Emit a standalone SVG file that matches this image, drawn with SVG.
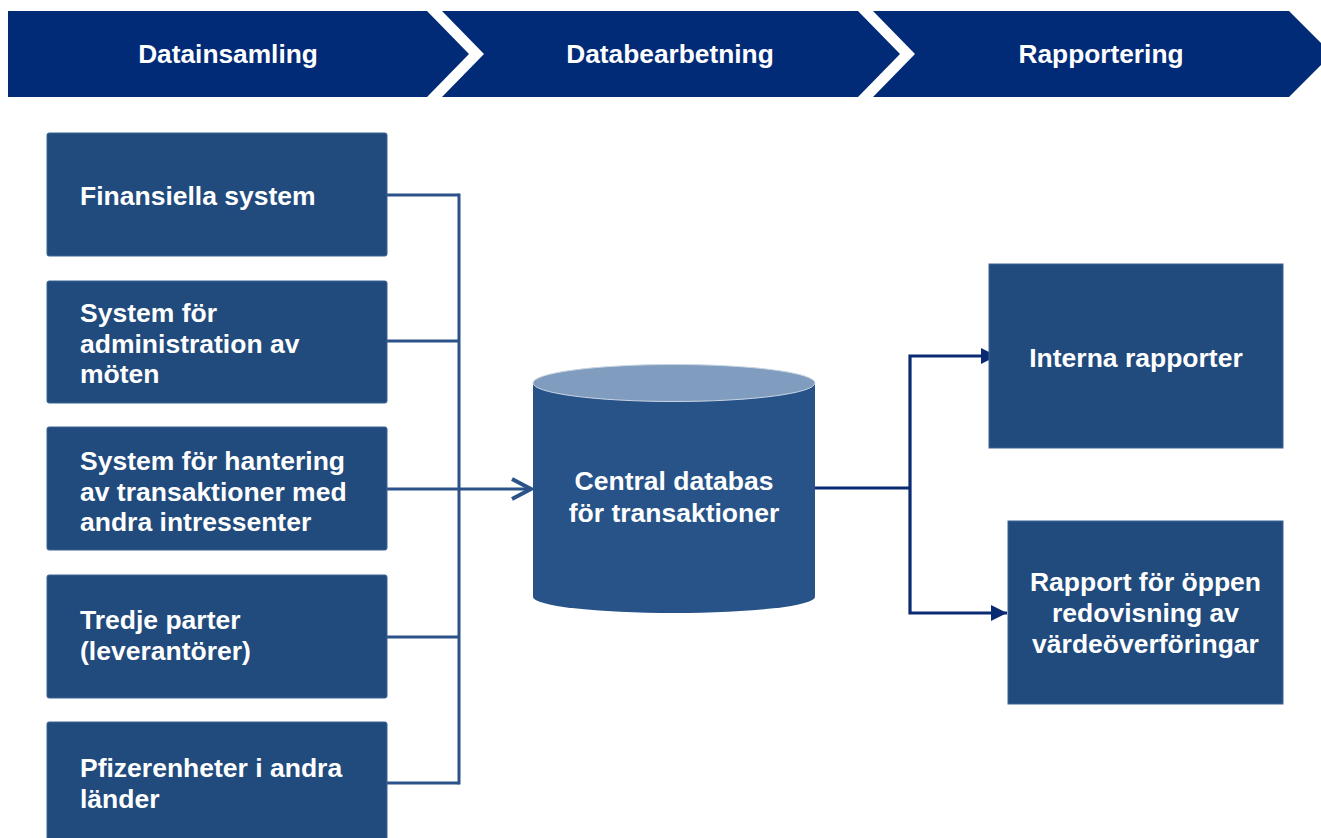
<svg xmlns="http://www.w3.org/2000/svg" width="1321" height="838" viewBox="0 0 1321 838">
<style>
.hdr{fill:#012a77}
.hdrt{font-family:"Liberation Sans",Arial,sans-serif;font-weight:bold;font-size:26.3px;fill:#fff;text-anchor:middle}
.box{fill:#214a7d;stroke:#3d6395;stroke-width:1}
.t{font-family:"Liberation Sans",Arial,sans-serif;font-weight:bold;font-size:26.5px;fill:#fff}
.c{text-anchor:middle}
.lc{fill:none;stroke:#2b5389;stroke-width:3}
.rc{fill:none;stroke:#0a2a73;stroke-width:3.2}
</style>
<defs>
<marker id="tri" markerUnits="userSpaceOnUse" markerWidth="18" markerHeight="18" refX="16" refY="8" orient="auto">
<path d="M0,0 L16,8 L0,16 Z" fill="#0a2a73"/>
</marker>
</defs>
<g id="header">
<g id="h1"><polygon class="hdr" points="8,11 427,11 469,54 427,97 8,97"/><text class="hdrt" x="228" y="63">Datainsamling</text></g>
<g id="h2"><polygon class="hdr" points="442,11 858,11 900,54 858,97 442,97 484,54"/><text class="hdrt" x="670" y="63">Databearbetning</text></g>
<g id="h3"><polygon class="hdr" points="873,11 1289,11 1332,54 1289,97 873,97 915,54"/><text class="hdrt" x="1101" y="63">Rapportering</text></g>
</g>
<g id="connectors">
<polyline class="lc" points="387,195 459,195"/>
<polyline class="lc" points="387,341 459,341"/>
<polyline class="lc" points="387,489 530,489"/>
<polyline class="lc" points="387,637 459,637"/>
<polyline class="lc" points="387,783 459,783"/>
<line class="lc" x1="459" y1="193.5" x2="459" y2="784.5"/>
<polyline points="512,479 531,489 512,499" fill="none" stroke="#2b5389" stroke-width="4"/>
<polyline class="rc" points="815,488 910,488"/>
<polyline class="rc" points="910,488 910,356 997,356" marker-end="url(#tri)"/>
<polyline class="rc" points="910,488 910,613 1007,613" marker-end="url(#tri)"/>
</g>
<g id="n1"><rect class="box" x="47" y="133" width="340" height="123" rx="2"/><text class="t" x="80" y="205">Finansiella system</text></g>
<g id="n2"><rect class="box" x="47" y="281" width="340" height="122" rx="2"/><text class="t" x="80" y="322">System för</text><text class="t" x="80" y="352.5">administration av</text><text class="t" x="80" y="383">möten</text></g>
<g id="n3"><rect class="box" x="47" y="427" width="340" height="123" rx="2"/><text class="t" x="80" y="470">System för hantering</text><text class="t" x="80" y="500.5">av transaktioner med</text><text class="t" x="80" y="531">andra intressenter</text></g>
<g id="n4"><rect class="box" x="47" y="575" width="340" height="123" rx="2"/><text class="t" x="80" y="629">Tredje parter</text><text class="t" x="80" y="660">(leverantörer)</text></g>
<g id="n5"><rect class="box" x="47" y="722" width="340" height="130" rx="2"/><text class="t" x="80" y="777">Pfizerenheter i andra</text><text class="t" x="80" y="808">länder</text></g>
<g id="db">
<path d="M533,383 L533,597 A141,16 0 0 0 815,597 L815,383 Z" fill="#275389"/>
<ellipse cx="674" cy="383" rx="141" ry="18.5" fill="#809dbf" stroke="#c9d5e4" stroke-width="1"/>
<text class="t c" x="674" y="490">Central databas</text>
<text class="t c" x="674" y="522">för transaktioner</text>
</g>
<g id="r1"><rect class="box" x="989" y="264" width="294" height="184"/><text class="t c" x="1136" y="367">Interna rapporter</text></g>
<g id="r2"><rect class="box" x="1008" y="521" width="275" height="183"/><text class="t c" x="1145.5" y="591">Rapport för öppen</text><text class="t c" x="1145.5" y="622">redovisning av</text><text class="t c" x="1145.5" y="653">värdeöverföringar</text></g>
</svg>
